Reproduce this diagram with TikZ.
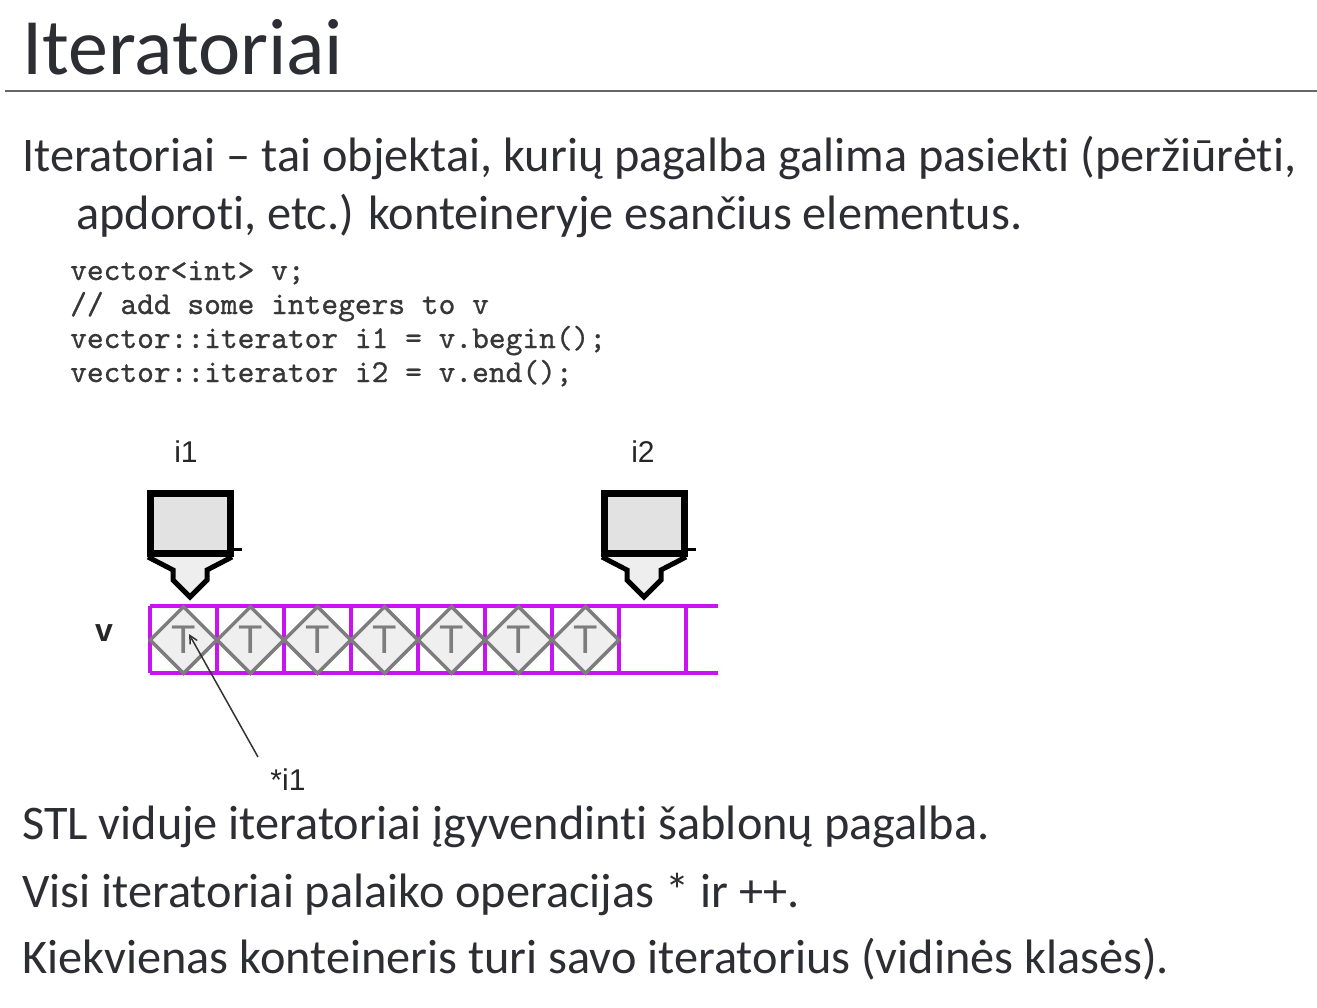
\documentclass[tikz,border=0pt]{standalone}
\usepackage{fontspec}
\setmainfont{Carlito}[Ligatures=NoCommon]
\newfontfamily\labelfont{Liberation Sans}
\newfontfamily\codefont{lmmono10-regular.otf}[FakeBold=0.8]
\usetikzlibrary{shapes.geometric,arrows.meta}

\definecolor{ink}{RGB}{45,45,52}
\definecolor{codeink}{RGB}{55,55,55}
\definecolor{vecline}{RGB}{200,20,240}
\definecolor{elemline}{RGB}{125,125,125}
\definecolor{elemfill}{RGB}{239,239,239}
\definecolor{iterfill}{RGB}{226,226,226}
\definecolor{tipfill}{RGB}{238,238,238}

\tikzset{
  title/.style={anchor=base west,inner sep=0,text=ink,font=\fontsize{80}{90}\selectfont},
  bodytext/.style={anchor=base west,inner sep=0,text=ink,font=\fontsize{48.3}{56}\selectfont},
  codeline/.style={anchor=base west,inner sep=0,text=codeink,font=\codefont\fontsize{31.9}{36}\selectfont},
  itlabel/.style={inner sep=0,text=black!85,font=\labelfont\fontsize{30}{34}\selectfont},
  elem/.style={diamond,draw=elemline,line width=3.5,fill=elemfill,minimum width=68,minimum height=68,
    inner sep=0,text=elemline,font=\labelfont\fontsize{40}{44}\selectfont},
  vec/.style={draw=vecline,line width=4.5},
  iterbody/.style={draw=black,line width=7,fill=iterfill},
  itertip/.style={draw=black,line width=5,fill=tipfill,line join=miter},
  pointer/.style={draw=black!80,line width=1.5,-{Straight Barb[length=8,width=8,line width=1.5]}},
}

\begin{document}
\begin{tikzpicture}[x=1pt,y=-1pt]
\useasboundingbox (0,0) rectangle (1317,1008);
\fill[white] (0,0) rectangle (1317,1008);

% heading and rule
\node[title] (head) at (22,75) {Iteratoriai};
\draw[black!60,line width=1.5] (5,91) -- (1317,91);

% definition
\node[bodytext] (def1) at (22,172) {Iteratoriai – tai objektai, kurių pagalba galima pasiekti (peržiūrėti,};
\node[bodytext] (def2) at (76,230) {apdoroti, etc.) konteineryje esančius elementus.};

% code sample
\node[codeline] (c1) at (70,280) {vector<int> v;};
\node[codeline] (c2) at (70,314) {// add some integers to v};
\node[codeline] (c3) at (70,348) {vector::iterator i1 = v.begin();};
\node[codeline] (c4) at (70,382) {vector::iterator i2 = v.end();};

% vector storage: rails and cell walls
\draw[vec] (150,606) -- (718,606);
\draw[vec] (150,673) -- (718,673);
\foreach \k in {0,...,8}
  \draw[vec] ({150+67*\k},606) -- ({150+67*\k},673);

% stored elements
\foreach \k in {1,...,7}
  \node[elem] (d\k) at ({116.5+67*\k},640) {T};

\node[itlabel,font=\labelfont\bfseries\fontsize{32}{36}\selectfont] (vname) at (104,633) {v};

% iterators
\foreach \dx/\nm in {0/i1,454/i2} {
  \begin{scope}[xshift=\dx]
    \draw[itertip] (148,557) -- (173,570) -- (173,580) -- (190,597) -- (207,580) -- (207,570) -- (232,557);
    \draw[iterbody] (150.5,493.5) rectangle (230.5,553.5);
    \draw[black,line width=3] (230,549) -- (242,549);
  \end{scope}
}
\node[itlabel] (l1) at (186,452) {i1};
\node[itlabel] (l2) at (643,452) {i2};

% dereference annotation
\node[itlabel] (deref) at (288,780) {*i1};
\coordinate (ptail) at (258,757);
\coordinate (phead) at (189,634);
\draw[pointer] (ptail) -- (phead);

% closing remarks
\node[bodytext] (r1) at (22,839) {STL viduje iteratoriai įgyvendinti šablonų pagalba.};
\node[bodytext] (r2) at (22,907) {Visi iteratoriai palaiko operacijas * ir ++.};
\node[bodytext] (r3) at (22,973) {Kiekvienas konteineris turi savo iteratorius (vidinės klasės).};
\end{tikzpicture}
\end{document}
